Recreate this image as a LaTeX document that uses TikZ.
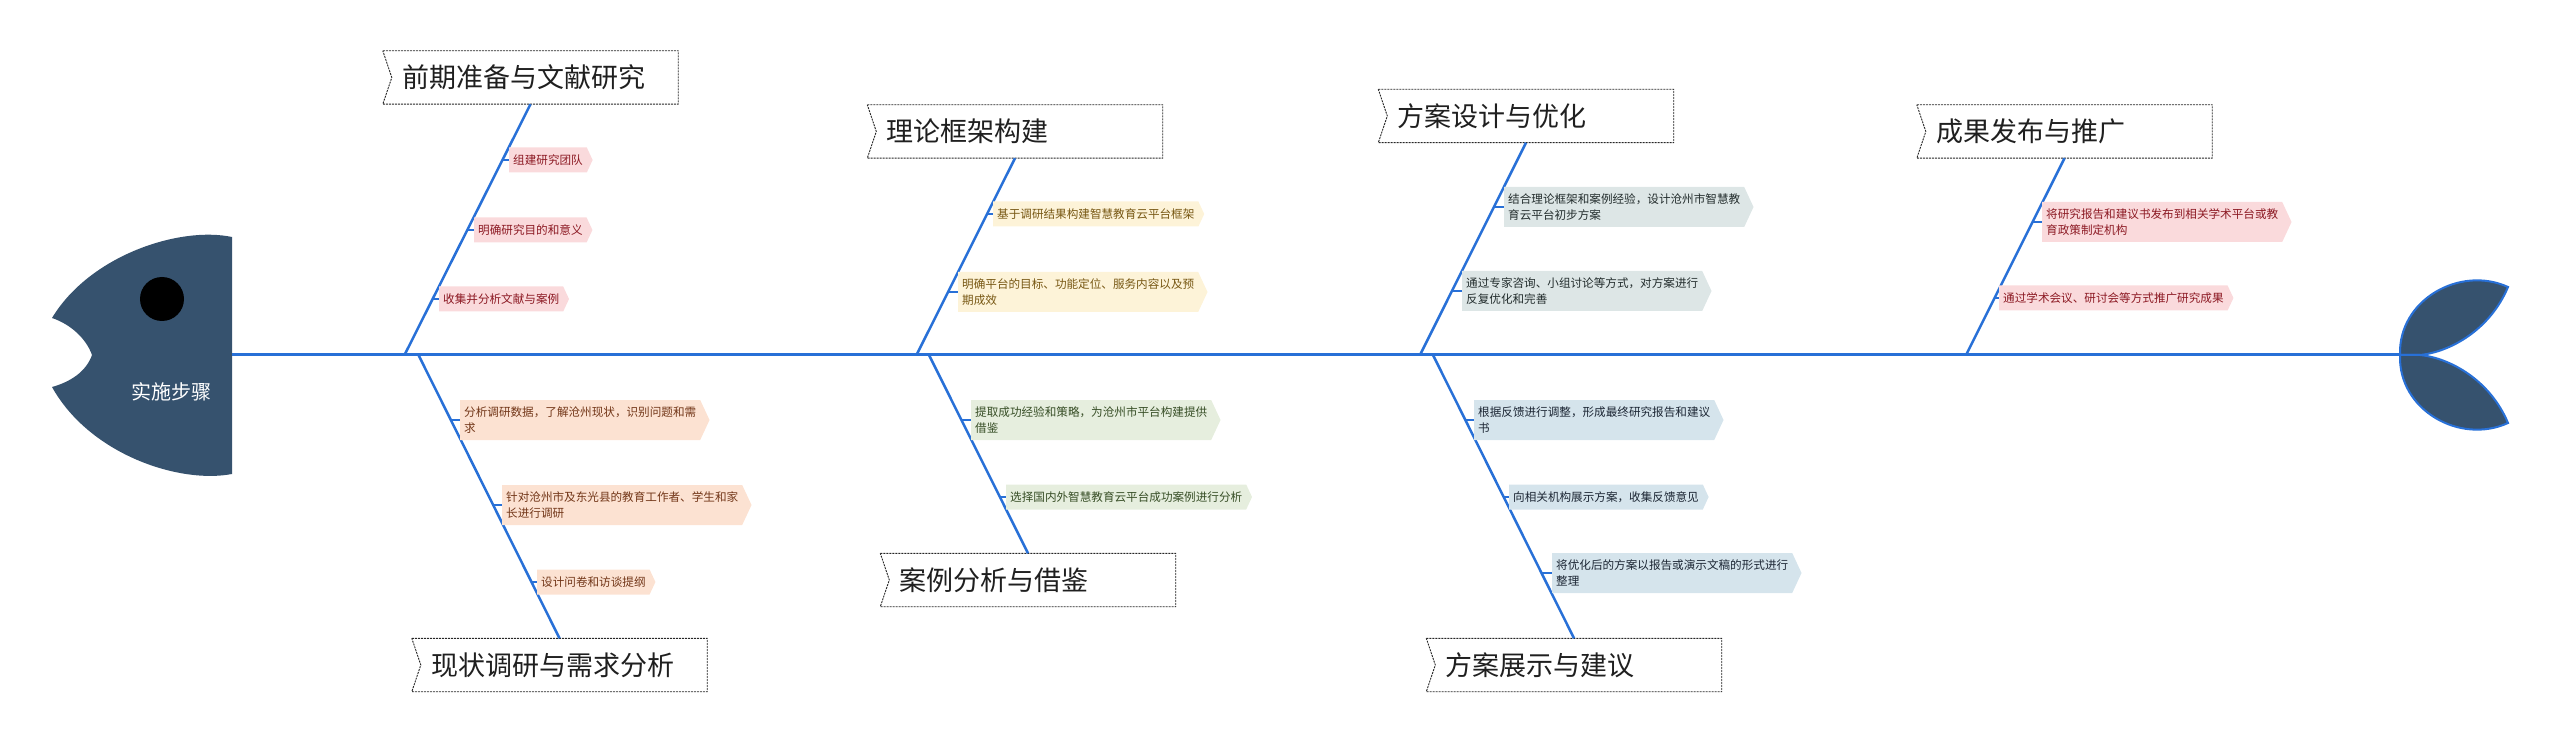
\documentclass[tikz,border=0pt]{standalone}
\usepackage{fontspec}
\setmainfont{Noto Sans CJK SC}
\usetikzlibrary{calc,shapes.symbols}
\definecolor{spineblue}{RGB}{40,112,215}
\definecolor{headfill}{RGB}{54,82,110}
\definecolor{pinkfill}{RGB}{250,218,220}
\definecolor{pinktext}{RGB}{140,25,35}
\definecolor{peachfill}{RGB}{252,226,210}
\definecolor{peachtext}{RGB}{115,55,25}
\definecolor{yellowfill}{RGB}{253,243,216}
\definecolor{yellowtext}{RGB}{120,88,20}
\definecolor{greenfill}{RGB}{230,238,222}
\definecolor{greentext}{RGB}{55,78,38}
\definecolor{grayfill}{RGB}{221,230,230}
\definecolor{graytext}{RGB}{35,45,45}
\definecolor{bluefill}{RGB}{213,228,236}
\definecolor{bluetext}{RGB}{28,38,52}
\begin{document}
\begin{tikzpicture}[x=1pt,y=-1pt,
  spine/.style={draw=spineblue, line width=3pt},
  bone/.style={draw=spineblue, line width=2.5pt},
  tick/.style={draw=spineblue, line width=2pt},
  title/.style={inner xsep=19pt, inner ysep=0pt, text width=257pt, minimum height=53pt,
    align=left, font=\fontsize{27}{30}\selectfont, text=black!88},
  titleframe/.style={draw=black!85, line width=0.9pt, dash pattern=on 2pt off 1pt},
  item/.style={signal, signal to=east, signal pointer angle=130, anchor=west,
    inner xsep=4pt, inner ysep=4pt, minimum height=25pt, align=left,
    font=\fontsize{11.6}{16}\selectfont},
  two/.style={minimum height=40pt},
  pinkitem/.style={item, fill=pinkfill, text=pinktext},
  peachitem/.style={item, fill=peachfill, text=peachtext},
  yellowitem/.style={item, fill=yellowfill, text=yellowtext},
  greenitem/.style={item, fill=greenfill, text=greentext},
  grayitem/.style={item, fill=grayfill, text=graytext},
  blueitem/.style={item, fill=bluefill, text=bluetext},
  lobe/.style={fill=headfill, draw=spineblue, line width=2pt}
]
\useasboundingbox (0,0) rectangle (2560,743);

% head
\fill[headfill] (232,237) .. controls (180,226) and (90,255) .. (52,318)
  .. controls (70,324) and (86,338) .. (92,355)
  .. controls (86,372) and (70,382) .. (52,387)
  .. controls (90,455) and (180,484) .. (232,474) -- cycle;
\fill[black] (162,299) circle[radius=22];
\node[text=white, font=\fontsize{20}{24}\selectfont] (head) at (171,392) {实施步骤};

% spine
\coordinate (headR) at (232,355);
\coordinate (tailJ) at (2400,355);
\draw[spine] (headR) -- (tailJ);

% tail
\draw[lobe] (2400,355) .. controls (2398,300) and (2460,265) .. (2508,287)
  .. controls (2490,330) and (2450,352) .. (2420,355) -- cycle;
\draw[lobe] (2400,355) .. controls (2398,410) and (2460,445) .. (2508,423)
  .. controls (2490,380) and (2450,358) .. (2420,355) -- cycle;

% titles
\node[title] (T1) at (530.5,77.5) {前期准备与文献研究};
\node[title] (T2) at (559.5,665) {现状调研与需求分析};
\node[title] (T3) at (1015,131.5) {理论框架构建};
\node[title] (T4) at (1028,580) {案例分析与借鉴};
\node[title] (T5) at (1526,116) {方案设计与优化};
\node[title] (T6) at (1574,665) {方案展示与建议};
\node[title] (T7) at (2064.5,131.5) {成果发布与推广};
\foreach \t in {T1,T2,T3,T4,T5,T6,T7}{
  \draw[titleframe] (\t.north west) -- (\t.north east) -- (\t.south east)
    -- (\t.south west) -- ([xshift=9pt]\t.west) -- cycle;
}

% spine points
\coordinate (s1) at (404.5,355);
\coordinate (s2) at (418.5,355);
\coordinate (s3) at (916.5,355);
\coordinate (s4) at (929,355);
\coordinate (s5) at (1420,355);
\coordinate (s6) at (1433,355);
\coordinate (s7) at (1966,355);

% bones
\draw[bone] (s1) -- (T1.south);
\draw[bone] (s2) -- (T2.north);
\draw[bone] (s3) -- (T3.south);
\draw[bone] (s4) -- (T4.north);
\draw[bone] (s5) -- (T5.south);
\draw[bone] (s6) -- (T6.north);
\draw[bone] (s7) -- (T7.south);

% items
\node[pinkitem] (i11) at (509,160) {组建研究团队};
\node[pinkitem] (i12) at (474,230) {明确研究目的和意义};
\node[pinkitem] (i13) at (439,299) {收集并分析文献与案例};

\node[peachitem,two] (i21) at (460,420) {分析调研数据，了解沧州现状，识别问题和需\\求};
\node[peachitem,two] (i22) at (502,505) {针对沧州市及东光县的教育工作者、学生和家\\长进行调研};
\node[peachitem] (i23) at (537,582) {设计问卷和访谈提纲};

\node[yellowitem] (i31) at (993,214) {基于调研结果构建智慧教育云平台框架};
\node[yellowitem,two] (i32) at (958,292) {明确平台的目标、功能定位、服务内容以及预\\期成效};

\node[greenitem,two] (i41) at (971,420) {提取成功经验和策略，为沧州市平台构建提供\\借鉴};
\node[greenitem] (i42) at (1006,497) {选择国内外智慧教育云平台成功案例进行分析};

\node[grayitem,two] (i51) at (1504,207) {结合理论框架和案例经验，设计沧州市智慧教\\育云平台初步方案};
\node[grayitem,two] (i52) at (1462,291) {通过专家咨询、小组讨论等方式，对方案进行\\反复优化和完善};

\node[blueitem,two] (i61) at (1474,420) {根据反馈进行调整，形成最终研究报告和建议\\书};
\node[blueitem] (i62) at (1509,497) {向相关机构展示方案，收集反馈意见};
\node[blueitem,two] (i63) at (1552,573) {将优化后的方案以报告或演示文稿的形式进行\\整理};

\node[pinkitem,two] (i71) at (2042,222) {将研究报告和建议书发布到相关学术平台或教\\育政策制定机构};
\node[pinkitem] (i72) at (1999,298) {通过学术会议、研讨会等方式推广研究成果};

% ticks
\foreach \i/\s/\t in {i11/s1/T1.south, i12/s1/T1.south, i13/s1/T1.south,
  i21/s2/T2.north, i22/s2/T2.north, i23/s2/T2.north,
  i31/s3/T3.south, i32/s3/T3.south,
  i41/s4/T4.north, i42/s4/T4.north,
  i51/s5/T5.south, i52/s5/T5.south,
  i61/s6/T6.north, i62/s6/T6.north, i63/s6/T6.north,
  i71/s7/T7.south, i72/s7/T7.south}{
  \draw[tick] let \p1=(\s), \p2=(\t), \p3=(\i.west) in
    ({\x1+(\x2-\x1)*((\y3-\y1)/(\y2-\y1))}, \y3) -- (\i.west);
}
\end{tikzpicture}
\end{document}
